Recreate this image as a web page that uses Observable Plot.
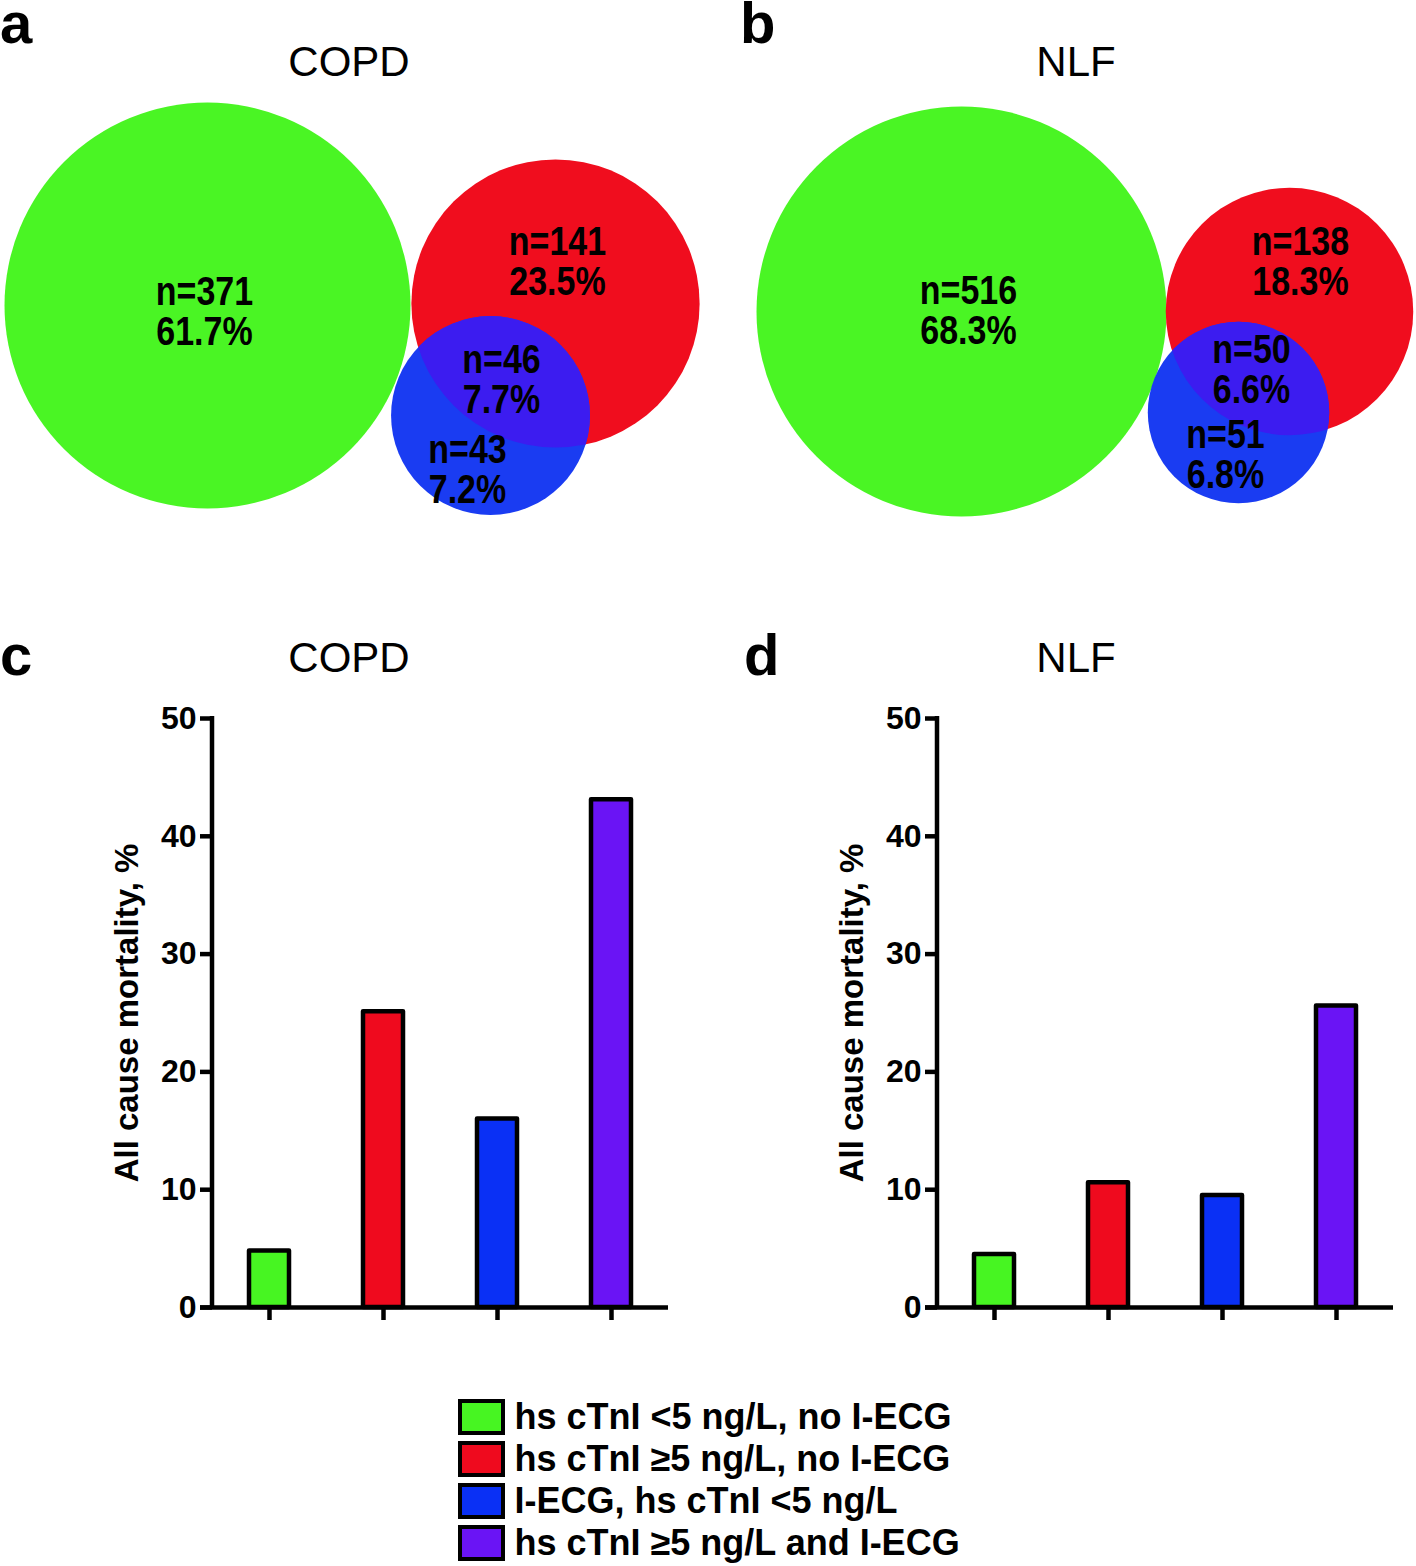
<!DOCTYPE html>
<html><head><meta charset="utf-8">
<script src="https://cdn.jsdelivr.net/npm/d3@7"></script>
<script src="https://cdn.jsdelivr.net/npm/@observablehq/plot@0.6"></script>
<style>
body{margin:0;background:#fff;}
#root{position:relative;width:1416px;height:1566px;overflow:hidden;font-family:"Liberation Sans",Arial,sans-serif;background:#fff;}
#root svg{position:absolute;background:transparent;overflow:visible;}
.lbl{position:absolute;transform:translate(-50%,-50%);white-space:nowrap;line-height:1;color:#000;}
.letter{position:absolute;font-weight:bold;font-size:58px;line-height:0.8;color:#000;}
.title{font-size:42px;}
</style></head><body><div id="root"></div>
<script>
// ---- data ----
const groups = ["hs cTnI <5 ng/L, no I-ECG", "hs cTnI \u22655 ng/L, no I-ECG", "I-ECG, hs cTnI <5 ng/L", "hs cTnI \u22655 ng/L and I-ECG"];
const groupColors = ["#47f522", "#ef0a1e", "#0a30f5", "#6a14f5"];
const copdMortality = [4.8, 25.1, 16.0, 43.1];
const nlfMortality = [4.5, 10.6, 9.5, 25.6];
const yTicks = [0, 10, 20, 30, 40, 50];
const yLabel = "All cause mortality, %";
// Venn regions: green only, red only, red∩blue overlap, blue only
const copdRegionN = [371, 141, 46, 43];
const copdRegionPct = [61.7, 23.5, 7.7, 7.2];
const nlfRegionN = [516, 138, 50, 51];
const nlfRegionPct = [68.3, 18.3, 6.6, 6.8];

// ---- layout (panel-local pixels) ----
const vennColors = ["#4af524", "#f00d1e", "#1a3cf2"];
const overlapColor = "#3c1cf0";
const copdLayout = {circles: [[207, 305], [555, 303], [490, 415]], labels: [[204, 312], [557, 262], [501, 380], [467, 470]], rMax: 203};
const nlfLayout = {circles: [[253, 311], [581, 311], [530, 412]], labels: [[260, 311], [592, 262], [543, 370], [517, 455]], rMax: 205};
const mainFont = "'Liberation Sans', Arial, sans-serif";
const root = document.getElementById("root");
const svgNS = "http://www.w3.org/2000/svg";
let clipId = 0;

function place(el, left, top) { el.style.left = left + "px"; el.style.top = top + "px"; root.appendChild(el); }

function condense(plot, k) {
  for (const t of plot.querySelectorAll('g[aria-label="text"] text')) {
    const tr = t.getAttribute("transform");
    if (tr) t.setAttribute("transform", tr + ` scale(${k},1)`);
    else {
      const x = +t.getAttribute("x") || 0, y = +t.getAttribute("y") || 0;
      t.setAttribute("transform", `translate(${x},${y}) scale(${k},1) translate(${-x},${-y})`);
    }
  }
}

function venn(regionN, regionPct, layout, left) {
  const circleN = [regionN[0], regionN[1] + regionN[2], regionN[2] + regionN[3]];
  const circles = circleN.map((n, i) => ({n, cx: layout.circles[i][0], cy: layout.circles[i][1], fill: vennColors[i]}));
  const labels = regionN.map((n, i) => ({text: `n=${n}\n${regionPct[i].toFixed(1)}%`, x: layout.labels[i][0], y: layout.labels[i][1]}));
  const plot = Plot.plot({
    width: 708, height: 540, margin: 0,
    style: {background: "transparent", overflow: "visible", fontFamily: mainFont},
    x: {type: "identity", axis: null}, y: {type: "identity", axis: null},
    r: {type: "sqrt", domain: [0, circleN[0]], range: [0, layout.rMax]},
    marks: [
      Plot.dot(circles, {x: "cx", y: "cy", r: "n", fill: "fill", sort: null}),
      Plot.dot([circles[1]], {x: "cx", y: "cy", r: "n", fill: overlapColor}),
      Plot.text(labels, {x: "x", y: "y", text: "text", fontSize: 40, fontWeight: "bold", lineHeight: 1.0, fill: "black"})
    ]
  });
  const dots = plot.querySelectorAll('g[aria-label="dot"]');
  if (dots.length >= 2) {
    const blue = dots[0].querySelectorAll("circle, path")[2];
    const id = "vclip" + (clipId++);
    const defs = document.createElementNS(svgNS, "defs");
    const cp = document.createElementNS(svgNS, "clipPath");
    cp.setAttribute("id", id);
    cp.appendChild(blue.cloneNode(true));
    defs.appendChild(cp);
    plot.insertBefore(defs, plot.firstChild);
    dots[1].setAttribute("clip-path", `url(#${id})`);
  }
  condense(plot, 0.85);
  place(plot, left, 0);
}

function yAxisLine(index, scales, values, dims) {
  const line = document.createElementNS(svgNS, "line");
  const x = dims.marginLeft;
  line.setAttribute("x1", x); line.setAttribute("x2", x);
  line.setAttribute("y1", scales.y(0) + 2); line.setAttribute("y2", scales.y(50) - 2);
  line.setAttribute("stroke", "black"); line.setAttribute("stroke-width", 4.5);
  return line;
}

function bars(values, left, marginLeft, marginRight) {
  const data = groups.map((g, i) => ({g, v: values[i], c: groupColors[i]}));
  const plot = Plot.plot({
    width: 708, height: 700, marginLeft, marginRight, marginTop: 78, marginBottom: 33,
    style: {background: "transparent", overflow: "visible", fontFamily: mainFont},
    x: {domain: groups, paddingInner: 0.65, paddingOuter: 0.37, align: 0.43, axis: null},
    y: {domain: [0, 50], axis: null},
    marks: [
      Plot.barY(data, {x: "g", y: "v", fill: "c", stroke: "black", strokeWidth: 4.5, strokeLinejoin: "round"}),
      Plot.axisY({ticks: yTicks, tickSize: 12, tickPadding: 4, fontSize: 32, fontWeight: "bold", strokeWidth: 4.5, label: null, tickFormat: d => d, fill: "black"}),
      Plot.axisX({tickSize: 13, tickFormat: () => "", strokeWidth: 4.5, label: null}),
      Plot.ruleY([0], {dx: -12, strokeWidth: 4.5}),
      yAxisLine,
      Plot.text([yLabel], {text: d => d, frameAnchor: "left", textAnchor: "middle", rotate: -90, dx: -85, fontSize: 33, fontWeight: "bold", fill: "black"})
    ]
  });
  place(plot, left, 640);
}

function legend() {
  const plot = Plot.plot({
    width: 520, height: 171, marginLeft: 4, marginRight: 473, marginTop: 0, marginBottom: 0,
    style: {background: "transparent", overflow: "visible", fontFamily: mainFont},
    y: {domain: groups, paddingInner: 0.25, paddingOuter: 0.125, axis: null},
    marks: [
      Plot.cell(groups, {y: d => d, fill: (d, i) => groupColors[i], stroke: "black", strokeWidth: 4}),
      Plot.text(groups, {y: d => d, text: d => d, frameAnchor: "left", dx: 54, textAnchor: "start", fontSize: 36, fontWeight: "bold", fill: "black"})
    ]
  });
  place(plot, 456, 1394);
}

venn(copdRegionN, copdRegionPct, copdLayout, 0);
venn(nlfRegionN, nlfRegionPct, nlfLayout, 708);
bars(copdMortality, 0, 212, 28);
bars(nlfMortality, 708, 229, 11);
legend();

function text(cls, str, left, top) { const d = document.createElement("div"); d.className = cls; d.textContent = str; place(d, left, top); }
text("lbl title", "COPD", 349, 62);
text("lbl title", "NLF", 1076, 62);
text("lbl title", "COPD", 349, 658);
text("lbl title", "NLF", 1076, 658);
text("letter", "a", 0, 0);
text("letter", "b", 740, 0);
text("letter", "c", 0, 632);
text("letter", "d", 744, 632);
</script></body></html>
